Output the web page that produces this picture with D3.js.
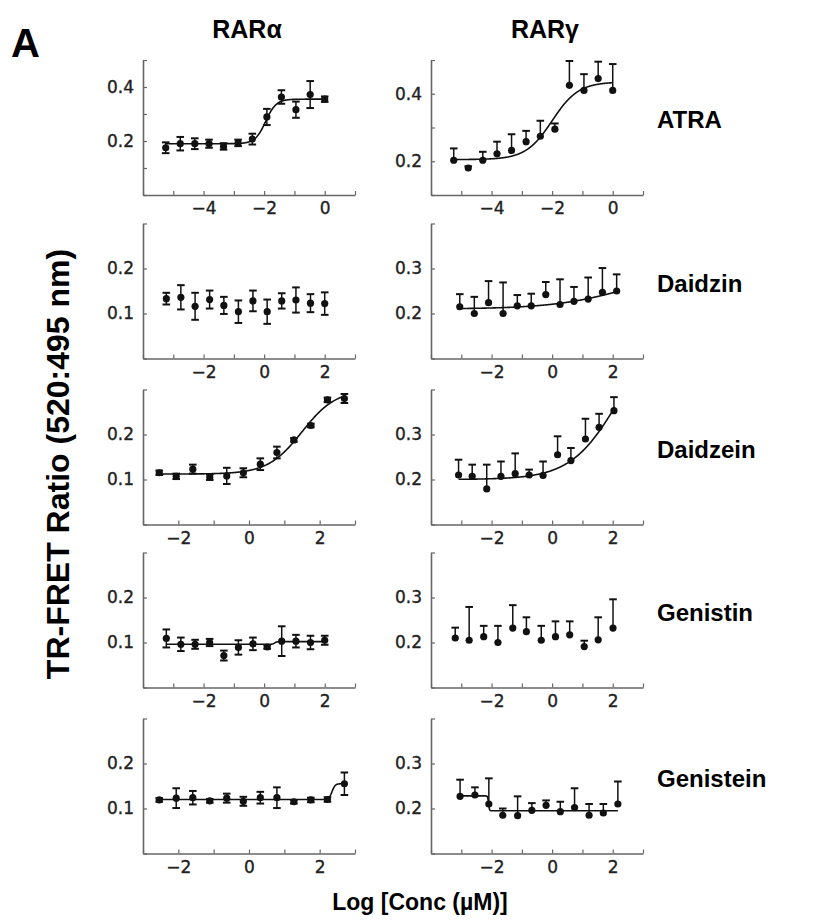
<!DOCTYPE html>
<html><head><meta charset="utf-8">
<script src="https://cdn.jsdelivr.net/npm/d3@7"></script>
<style>body{margin:0;background:#fff}</style>
</head><body>
<svg id="c" width="815" height="921"></svg>
<script>
// ---------------- DATA ----------------
const panelLetter = "A";
const columnTitles = ["RARα", "RARγ"];
const compounds = ["ATRA", "Daidzin", "Daidzein", "Genistin", "Genistein"];
const yAxisTitle = "TR-FRET Ratio (520:495 nm)";
const xAxisTitle = "Log [Conc (µM)]";

// log concentrations (µM)
const atraX        = [-5.25, -4.77, -4.29, -3.82, -3.34, -2.86, -2.39, -1.91, -1.43, -0.95, -0.48, 0];
const glycosideAX  = [-3.23, -2.75, -2.28, -1.80, -1.33, -0.85, -0.37, 0.10, 0.58, 1.05, 1.53, 2.00];
const aglyconeAX   = [-2.54, -2.06, -1.59, -1.11, -0.63, -0.16, 0.32, 0.79, 1.27, 1.75, 2.22, 2.70];
const daidzinGX    = [-3.05, -2.57, -2.10, -1.62, -1.15, -0.69, -0.21, 0.26, 0.72, 1.19, 1.66, 2.13];
const daidzeinGX   = [-3.09, -2.64, -2.16, -1.69, -1.22, -0.76, -0.30, 0.18, 0.62, 1.10, 1.55, 2.04];
const genistinGX   = [-3.20, -2.74, -2.26, -1.79, -1.30, -0.85, -0.36, 0.11, 0.58, 1.06, 1.52, 2.01];
const genisteinGX  = [-3.04, -2.55, -2.09, -1.63, -1.14, -0.67, -0.20, 0.27, 0.74, 1.22, 1.69, 2.17];

// ratios and error (RARα: ± error; RARγ: upper error only)
const atraA      = [0.175, 0.190, 0.190, 0.190, 0.180, 0.193, 0.207, 0.289, 0.363, 0.316, 0.372, 0.355];
const atraAErr   = [0.020, 0.025, 0.020, 0.015, 0.012, 0.012, 0.020, 0.030, 0.025, 0.030, 0.050, 0.010];
const atraG      = [0.203, 0.180, 0.203, 0.222, 0.232, 0.258, 0.274, 0.295, 0.425, 0.410, 0.445, 0.410];
const atraGErr   = [0.035, 0.005, 0.025, 0.036, 0.048, 0.032, 0.046, 0.017, 0.072, 0.048, 0.050, 0.078];
const daidzinA    = [0.133, 0.136, 0.116, 0.131, 0.118, 0.104, 0.128, 0.104, 0.128, 0.130, 0.123, 0.122];
const daidzinAErr = [0.013, 0.027, 0.030, 0.020, 0.019, 0.025, 0.023, 0.027, 0.017, 0.028, 0.020, 0.025];
const daidzinG    = [0.215, 0.200, 0.224, 0.200, 0.217, 0.217, 0.242, 0.220, 0.227, 0.232, 0.247, 0.250];
const daidzinGErr = [0.028, 0.037, 0.048, 0.069, 0.024, 0.027, 0.028, 0.056, 0.032, 0.048, 0.054, 0.037];
const daidzeinA    = [0.115, 0.107, 0.123, 0.105, 0.108, 0.115, 0.134, 0.160, 0.188, 0.220, 0.277, 0.280];
const daidzeinAErr = [0.005, 0.006, 0.010, 0.006, 0.018, 0.010, 0.013, 0.013, 0.004, 0.004, 0.005, 0.010];
const daidzeinG    = [0.210, 0.207, 0.179, 0.207, 0.213, 0.210, 0.209, 0.255, 0.242, 0.290, 0.316, 0.353];
const daidzeinGErr = [0.034, 0.026, 0.054, 0.033, 0.045, 0.012, 0.031, 0.041, 0.028, 0.045, 0.030, 0.030];
const genistinA    = [0.109, 0.096, 0.096, 0.100, 0.071, 0.089, 0.097, 0.090, 0.103, 0.103, 0.100, 0.105];
const genistinAErr = [0.020, 0.015, 0.010, 0.008, 0.011, 0.016, 0.014, 0.004, 0.033, 0.014, 0.015, 0.010];
const genistinG    = [0.210, 0.205, 0.213, 0.200, 0.232, 0.224, 0.205, 0.213, 0.217, 0.191, 0.206, 0.232];
const genistinGErr = [0.023, 0.074, 0.024, 0.037, 0.051, 0.032, 0.032, 0.034, 0.030, 0.013, 0.050, 0.064];
const genisteinA    = [0.119, 0.123, 0.124, 0.117, 0.123, 0.116, 0.124, 0.124, 0.115, 0.119, 0.120, 0.155];
const genisteinAErr = [0.004, 0.022, 0.015, 0.004, 0.010, 0.010, 0.013, 0.023, 0.004, 0.005, 0.005, 0.025];
const genisteinG    = [0.227, 0.230, 0.210, 0.185, 0.184, 0.196, 0.207, 0.193, 0.202, 0.185, 0.190, 0.210];
const genisteinGErr = [0.037, 0.017, 0.057, 0.015, 0.043, 0.016, 0.011, 0.022, 0.043, 0.025, 0.020, 0.050];

// fitted dose-response parameters [bottom, top, logEC50, hill] (null = no fit)
const fitATRA      = [[0.190, 0.355, -1.95, 2.5], [0.205, 0.435, -2.0, 1.0]];
const fitDaidzin   = [null, [0.210, 0.300, 2.5, 0.35]];
const fitDaidzein  = [[0.112, 0.300, 1.5, 0.9], [0.200, 0.550, 2.2, 0.55]];
const fitGenistin  = [[0.096, 0.102, 0.35, 12], null];
const fitGenistein = [[0.120, 0.155, 2.35, 10], [0.228, 0.195, -2.1, 30]];

// axis ranges and tick labels
const xDomATRA = [-6, 1], xDomWide = [-4, 3], xDomNarrow = [-3, 3];
const yDomA_ATRA = [0, 0.5], yDomG_ATRA = [0.1, 0.5], yDomA = [0, 0.3], yDomG = [0.1, 0.4];
const xLabelsATRA = [-4, -2, 0], xLabelsOther = [-2, 0, 2];
const yLabelsATRA = [0.2, 0.4], yLabelsA = [0.1, 0.2], yLabelsG = [0.2, 0.3];

// ---------------- LAYOUT ----------------
const rowTops = [60, 223.5, 389.5, 552.5, 718.5];
const rowH = 135;
const colLeft = [143, 431];
const colW = 212;

const panels = [
  {r:0,c:0,x:atraX,y:atraA,e:atraAErr,fit:fitATRA[0],xd:xDomATRA,yd:yDomA_ATRA,xl:xLabelsATRA,yl:yLabelsATRA},
  {r:0,c:1,x:atraX,y:atraG,e:atraGErr,fit:fitATRA[1],xd:xDomATRA,yd:yDomG_ATRA,xl:xLabelsATRA,yl:yLabelsATRA},
  {r:1,c:0,x:glycosideAX,y:daidzinA,e:daidzinAErr,fit:fitDaidzin[0],xd:xDomWide,yd:yDomA,xl:xLabelsOther,yl:yLabelsA},
  {r:1,c:1,x:daidzinGX,y:daidzinG,e:daidzinGErr,fit:fitDaidzin[1],xd:xDomWide,yd:yDomG,xl:xLabelsOther,yl:yLabelsG},
  {r:2,c:0,x:aglyconeAX,y:daidzeinA,e:daidzeinAErr,fit:fitDaidzein[0],xd:xDomNarrow,yd:yDomA,xl:xLabelsOther,yl:yLabelsA},
  {r:2,c:1,x:daidzeinGX,y:daidzeinG,e:daidzeinGErr,fit:fitDaidzein[1],xd:xDomWide,yd:yDomG,xl:xLabelsOther,yl:yLabelsG},
  {r:3,c:0,x:glycosideAX,y:genistinA,e:genistinAErr,fit:fitGenistin[0],xd:xDomWide,yd:yDomA,xl:xLabelsOther,yl:yLabelsA},
  {r:3,c:1,x:genistinGX,y:genistinG,e:genistinGErr,fit:fitGenistin[1],xd:xDomWide,yd:yDomG,xl:xLabelsOther,yl:yLabelsG},
  {r:4,c:0,x:aglyconeAX,y:genisteinA,e:genisteinAErr,fit:fitGenistein[0],xd:xDomNarrow,yd:yDomA,xl:xLabelsOther,yl:yLabelsA},
  {r:4,c:1,x:genisteinGX,y:genisteinG,e:genisteinGErr,fit:fitGenistein[1],xd:xDomWide,yd:yDomG,xl:xLabelsOther,yl:yLabelsG},
];

const svg = d3.select("#c");
const titleFont = "'Liberation Sans', Arial, sans-serif";
const tickFont = "'DejaVu Sans', Verdana, sans-serif";
const axisColor = "#666";
const ink = "#111";
const fmtX = v => (v < 0 ? "\u2212" + Math.abs(v) : String(v));
const hill = (p, x) => p[0] + (p[1] - p[0]) / (1 + Math.pow(10, (p[2] - x) * p[3]));

panels.forEach(p => {
  const x0 = colLeft[p.c], y0 = rowTops[p.r];
  const xs = d3.scaleLinear().domain(p.xd).range([x0, x0 + colW]);
  const ys = d3.scaleLinear().domain(p.yd).range([y0 + rowH, y0]);
  const g = svg.append("g");

  const xt = d3.range(Math.ceil(p.xd[0]), Math.floor(p.xd[1]) + 1);
  const yt = d3.range(Math.round(p.yd[0]*10), Math.round(p.yd[1]*10) + 1).map(v => v / 10);

  const xAxis = d3.axisBottom(xs).tickValues(xt).tickSizeInner(-4).tickSizeOuter(0).tickPadding(7)
    .tickFormat(d => p.xl.includes(d) ? fmtX(d) : "");
  const yAxis = d3.axisLeft(ys).tickValues(yt).tickSizeInner(-4).tickSizeOuter(0).tickPadding(9)
    .tickFormat(d => p.yl.some(v => Math.abs(v - d) < 1e-9) ? d3.format(".1f")(d) : "");

  const gx = g.append("g").attr("transform", `translate(0,${y0 + rowH})`).call(xAxis);
  const gy = g.append("g").attr("transform", `translate(${x0},0)`).call(yAxis);
  [gx, gy].forEach(a => {
    a.select(".domain").attr("stroke", axisColor).attr("stroke-width", 1.6);
    a.selectAll(".tick line").attr("stroke", axisColor).attr("stroke-width", 1.2);
    a.selectAll(".tick text").attr("fill", "#222").attr("font-family", tickFont).attr("font-size", 17)
      .attr("stroke", "#222").attr("stroke-width", 0.35);
  });

  // fitted curve
  if (p.fit) {
    const xmin = d3.min(p.x), xmax = d3.max(p.x);
    const pts = d3.range(0, 401).map(i => xmin + (xmax - xmin) * i / 400);
    g.append("path")
      .attr("d", d3.line().x(d => xs(d)).y(d => ys(hill(p.fit, d)))(pts))
      .attr("fill", "none").attr("stroke", ink).attr("stroke-width", 1.6);
  }

  // error bars
  const cap = 3.8;
  const sym = p.c === 0;
  p.x.forEach((xv, i) => {
    const cx = xs(xv);
    const yTop = ys(p.y[i] + p.e[i]);
    const yBot = sym ? ys(p.y[i] - p.e[i]) : ys(p.y[i]);
    g.append("line").attr("x1", cx).attr("x2", cx).attr("y1", yTop).attr("y2", yBot)
      .attr("stroke", ink).attr("stroke-width", 1.5);
    g.append("line").attr("x1", cx - cap).attr("x2", cx + cap).attr("y1", yTop).attr("y2", yTop)
      .attr("stroke", ink).attr("stroke-width", 2);
    if (sym) g.append("line").attr("x1", cx - cap).attr("x2", cx + cap).attr("y1", yBot).attr("y2", yBot)
      .attr("stroke", ink).attr("stroke-width", 2);
  });
  // points
  g.selectAll("circle.pt").data(p.x.map((xv, i) => [xv, p.y[i]])).enter().append("circle")
    .attr("class", "pt").attr("cx", d => xs(d[0])).attr("cy", d => ys(d[1])).attr("r", 3.6)
    .attr("fill", ink);
});

// titles
svg.append("text").attr("x", 11).attr("y", 57).text(panelLetter)
  .attr("font-family", titleFont).attr("font-weight", "bold").attr("font-size", 40).attr("fill", "#000");
columnTitles.forEach((t, i) => {
  svg.append("text").attr("x", colLeft[i] + [104, 114][i]).attr("y", 38).attr("text-anchor", "middle").text(t)
    .attr("font-family", titleFont).attr("font-weight", "bold").attr("font-size", 25).attr("fill", "#000");
});
compounds.forEach((t, i) => {
  svg.append("text").attr("x", 657).attr("y", rowTops[i] + 68).text(t)
    .attr("font-family", titleFont).attr("font-weight", "bold").attr("font-size", 24).attr("fill", "#000");
});
svg.append("text").attr("transform", "translate(69,464) rotate(-90)").attr("text-anchor", "middle").text(yAxisTitle)
  .attr("font-family", titleFont).attr("font-weight", "bold").attr("font-size", 32).attr("fill", "#000");
svg.append("text").attr("x", 420).attr("y", 910).attr("text-anchor", "middle").text(xAxisTitle)
  .attr("font-family", titleFont).attr("font-weight", "bold").attr("font-size", 23).attr("fill", "#000");
</script>
</body></html>
